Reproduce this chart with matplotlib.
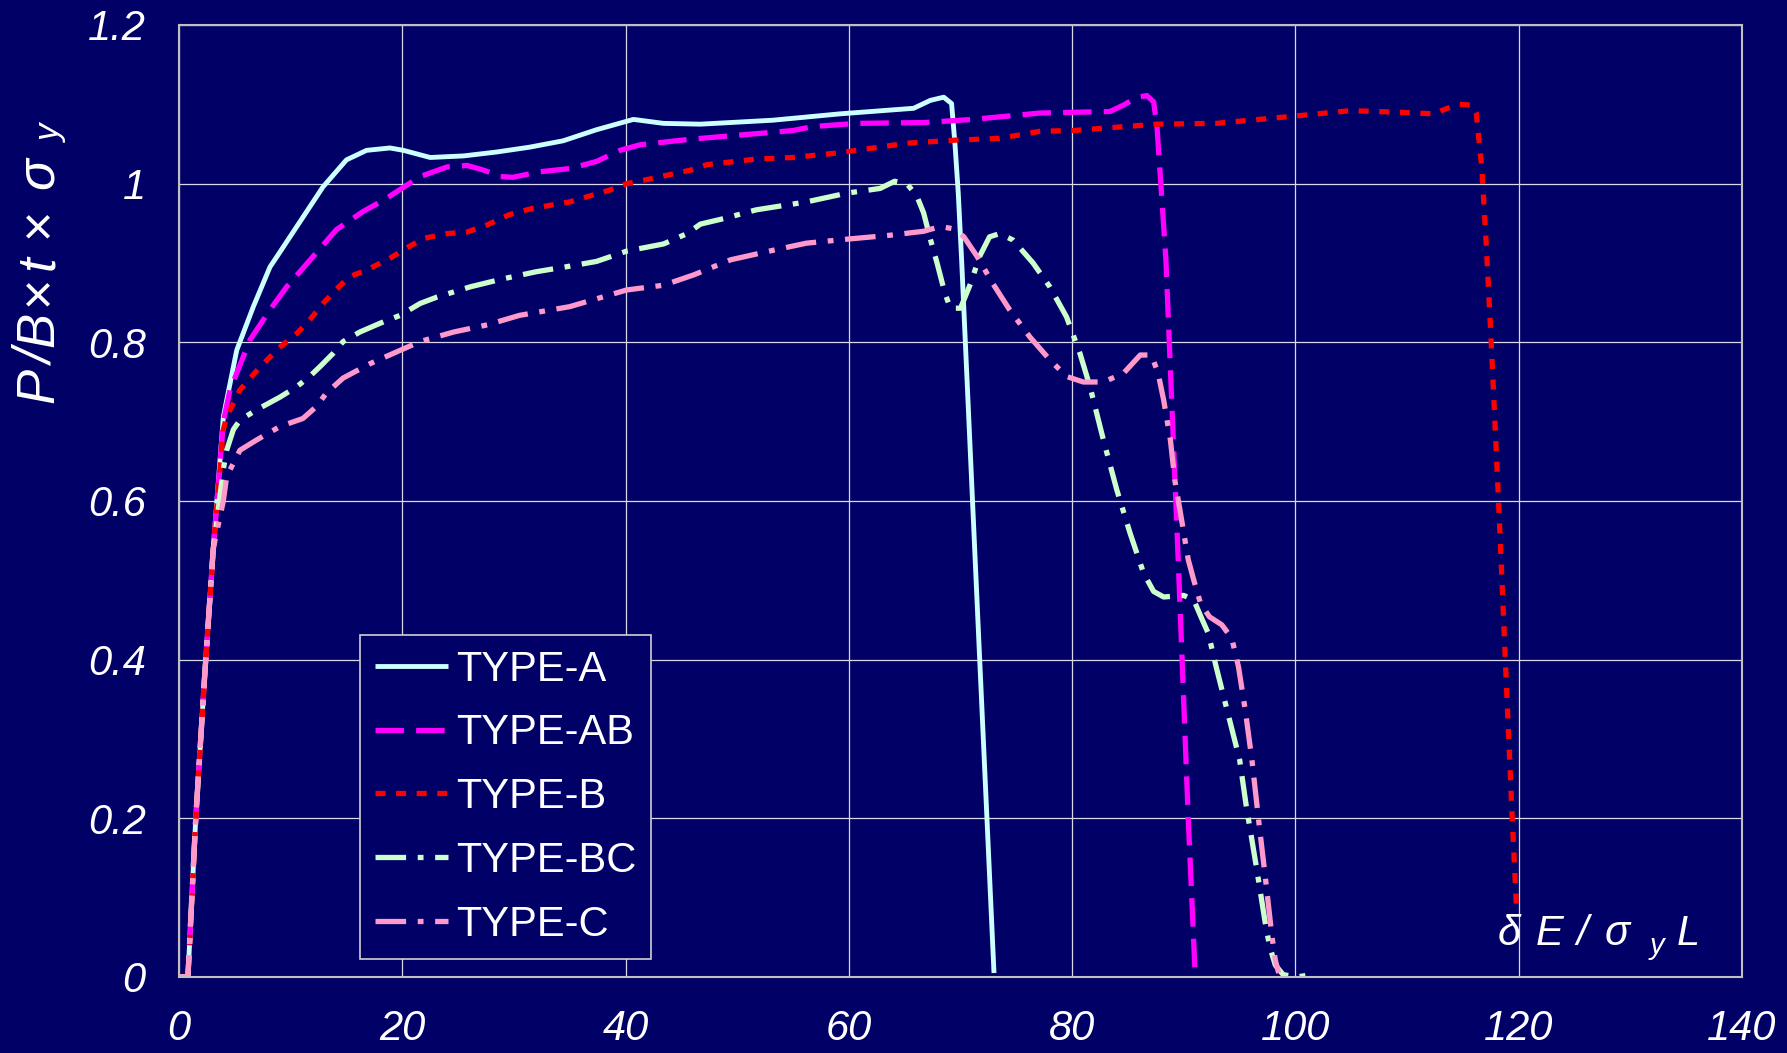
import matplotlib
matplotlib.use("Agg")
import matplotlib.pyplot as plt

# Figure size in pixels (dpi 100)
W, H = 1787, 1053
navy = "#000066"

# Data
# TYPE-A
a_x = [0, 0.8, 1.5, 2.3, 3.07, 3.97, 5.17, 6.66, 8.15, 9.05, 12.9, 15.0, 16.8, 18.9, 20.1,
       22.5, 25.5, 28.5, 31.4, 34.4, 37.4, 40.7, 43.4, 46.7, 53.2, 59.2, 65.8, 67.3, 68.5,
       69.2, 69.5, 69.8, 70.1, 71.6, 73.0]
a_y = [0, 0, 0.2, 0.38, 0.54, 0.706, 0.79, 0.845, 0.895, 0.914, 0.996, 1.030, 1.042, 1.045, 1.042,
       1.033, 1.035, 1.040, 1.046, 1.054, 1.068, 1.081, 1.076, 1.075, 1.080, 1.088, 1.095, 1.105, 1.109,
       1.101, 1.051, 0.988, 0.904, 0.437, 0.005]

# TYPE-AB
ab_x = [0, 0.8, 1.5, 2.3, 3.07, 3.97, 4.57, 6.36, 8.15, 9.65, 12.0, 14.1, 16.5, 18.3, 20.4, 21.6,
        24.0, 25.8, 27.3, 28.8, 29.9, 32.3, 35.0, 37.4, 39.5, 41.3, 45.8, 51.7, 55.0, 56.8, 60.7,
        66.7, 71.1, 77.1, 83.4, 84.6, 85.8, 86.7, 87.3, 87.6, 87.9, 88.4, 89.5, 90.4, 91.0]
ab_y = [0, 0, 0.2, 0.38, 0.54, 0.70, 0.74, 0.803, 0.841, 0.870, 0.908, 0.942, 0.965, 0.979, 0.998, 1.009,
        1.021, 1.023, 1.017, 1.009, 1.008, 1.015, 1.019, 1.028, 1.042, 1.049, 1.056, 1.063, 1.067, 1.072, 1.076,
        1.077, 1.081, 1.089, 1.091, 1.099, 1.109, 1.111, 1.103, 1.072, 1.009, 0.904, 0.526, 0.20, 0.009]

# TYPE-B
b_x = [0, 0.8, 1.5, 2.3, 3.07, 3.97, 4.27, 5.46, 7.26, 9.05, 10.54, 11.7, 12.9, 14.1, 15.3, 16.8,
       18.9, 20.4, 21.9, 24.0, 25.8, 27.6, 29.6, 31.7, 35.0, 38.6, 40.1, 42.2, 45.8, 47.3, 51.7,
       55.0, 59.2, 65.2, 69.7, 73.5, 77.1, 80.1, 87.6, 92.9, 99.8, 104.9, 109.4, 112.4, 113.6,
       114.7, 115.8, 116.2, 116.7, 117.1, 117.5, 117.9, 118.3, 118.8, 119.4, 119.8]
b_y = [0, 0, 0.2, 0.38, 0.54, 0.69, 0.706, 0.74, 0.769, 0.794, 0.811, 0.828, 0.849, 0.867, 0.883, 0.891,
       0.906, 0.919, 0.931, 0.937, 0.939, 0.948, 0.961, 0.969, 0.977, 0.992, 1.0, 1.006, 1.017, 1.024, 1.031,
       1.033, 1.039, 1.051, 1.055, 1.057, 1.066, 1.067, 1.075, 1.076, 1.085, 1.092, 1.090, 1.088, 1.095,
       1.100, 1.099, 1.089, 1.019, 0.921, 0.811, 0.69, 0.566, 0.40, 0.206, 0.087]

# TYPE-BC
bc_x = [0, 0.8, 1.5, 2.3, 3.07, 3.97, 4.27, 4.87, 5.46, 6.96, 9.05, 10.54, 11.7, 12.6, 13.8, 14.7,
        16.2, 18.0, 19.8, 21.6, 23.1, 26.1, 29.0, 32.0, 35.0, 37.4, 40.1, 43.4, 45.5, 46.7, 48.8,
        51.7, 56.2, 59.8, 62.8, 64.1, 65.2, 66.1, 66.7, 67.3, 67.9, 68.6, 69.1, 70.0, 70.9, 71.7,
        72.6, 73.5, 74.7, 76.5, 78.0, 79.5, 80.7, 81.6, 82.8, 84.0, 85.2, 86.4, 87.3, 88.2, 90.0,
        90.9, 91.6, 92.2, 92.9, 94.1, 95.0, 95.6, 96.5, 97.3, 97.7, 98.2, 98.9, 100.1, 101.0, 101.9]
bc_y = [0, 0, 0.2, 0.38, 0.54, 0.64, 0.664, 0.69, 0.702, 0.715, 0.731, 0.744, 0.757, 0.769, 0.786, 0.801,
        0.813, 0.824, 0.834, 0.849, 0.857, 0.870, 0.880, 0.889, 0.896, 0.902, 0.915, 0.924, 0.937, 0.949, 0.956,
        0.967, 0.977, 0.988, 0.994, 1.003, 1.0, 0.984, 0.963, 0.930, 0.90, 0.862, 0.843, 0.843, 0.874, 0.908,
        0.933, 0.937, 0.929, 0.90, 0.870, 0.832, 0.786, 0.744, 0.677, 0.614, 0.559, 0.509, 0.486, 0.479, 0.481,
        0.475, 0.452, 0.433, 0.391, 0.324, 0.274, 0.215, 0.139, 0.068, 0.038, 0.015, 0.003, 0.0, 0.002, 0.002]

# TYPE-C
c_x = [0, 0.8, 1.5, 2.3, 3.07, 3.97, 4.27, 5.46, 6.96, 9.05, 11.1, 12.3, 13.2, 14.7, 17.1, 19.5,
       21.6, 24.6, 27.6, 30.5, 35.0, 40.1, 43.4, 46.1, 49.4, 53.2, 56.2, 59.8, 63.7, 66.7, 68.2,
       69.4, 70.3, 71.5, 72.9, 74.4, 76.2, 78.0, 79.5, 81.0, 82.8, 84.6, 86.1, 87.1, 87.7, 88.2,
       88.8, 89.2, 89.7, 90.4, 90.9, 91.5, 92.3, 93.4, 94.3, 94.9, 95.5, 96.1, 96.7, 97.3, 97.9,
       98.2, 98.5]
c_y = [0, 0, 0.2, 0.38, 0.54, 0.60, 0.631, 0.664, 0.677, 0.694, 0.704, 0.719, 0.736, 0.755, 0.773, 0.788,
       0.801, 0.813, 0.822, 0.834, 0.845, 0.866, 0.872, 0.885, 0.904, 0.916, 0.925, 0.930, 0.935, 0.940, 0.946,
       0.943, 0.933, 0.908, 0.874, 0.841, 0.807, 0.778, 0.757, 0.750, 0.750, 0.761, 0.784, 0.784, 0.761, 0.727,
       0.677, 0.626, 0.585, 0.526, 0.50, 0.471, 0.454, 0.444, 0.427, 0.391, 0.337, 0.274, 0.198, 0.126, 0.051,
       0.021, 0.005]

x_ticks = [0, 20, 40, 60, 80, 100, 120, 140]
y_ticks = [0, 0.2, 0.4, 0.6, 0.8, 1.0, 1.2]
y_tick_labels = ["0", "0.2", "0.4", "0.6", "0.8", "1", "1.2"]

font = "Liberation Sans"

fig = plt.figure(figsize=(W / 100, H / 100), dpi=100, facecolor=navy)
ax = fig.add_axes([179 / W, 1 - 977 / H, (1742 - 179) / W, (977 - 25) / H])
ax.set_facecolor(navy)

ax.plot(a_x, a_y, color="#ccffff", lw=3.5, label="TYPE-A", solid_capstyle="butt")
ax.plot(ab_x, ab_y, color="#ff00ff", lw=3.8, dashes=(5.4, 2.3), dash_capstyle="butt", label="TYPE-AB")
ax.plot(b_x, b_y, color="#ff0000", lw=3.8, dashes=(1.9, 2.0), dash_capstyle="butt", label="TYPE-B")
ax.plot(bc_x, bc_y, color="#ccffcc", lw=3.8, dashes=(5.8, 2.2, 1.1, 2.2), dash_capstyle="butt", label="TYPE-BC")
ax.plot(c_x, c_y, color="#ff99cc", lw=3.8, dashes=(5.8, 2.2, 1.1, 2.2), dash_capstyle="butt", label="TYPE-C")

ax.set_xlim(0, 140)
ax.set_ylim(0, 1.2)
ax.set_xticks(x_ticks)
ax.set_yticks(y_ticks)
ax.set_yticklabels(y_tick_labels)
ax.tick_params(length=0, colors="white", labelsize=30)
ax.tick_params(axis="x", pad=23)
ax.tick_params(axis="y", pad=24)
for lab in ax.get_xticklabels() + ax.get_yticklabels():
    lab.set_family(font)
    lab.set_style("italic")
ax.grid(True, color="#d8d8e8", lw=0.9)
for sp in ax.spines.values():
    sp.set_color("#c0c0c0")
    sp.set_linewidth(1.5)

leg = ax.legend(loc="upper left", bbox_to_anchor=(360 / W, 1 - 635 / H),
                bbox_transform=fig.transFigure, borderaxespad=0,
                prop={"family": font, "size": 30}, labelcolor="white",
                facecolor=navy, edgecolor="#d0d0d0", framealpha=1, fancybox=False,
                handlelength=1.76, handletextpad=0.2, borderpad=0.35, labelspacing=0.57)
leg.get_frame().set_linewidth(1.2)


def put(px, py, s, size, rot=0):
    fig.text(px / W, 1 - py / H, s, color="white", family=font, style="italic",
             fontsize=size, rotation=rot, rotation_mode="anchor", ha="center", va="baseline")


# y axis label: P/B x t x sigma_y (rotated)
for s, py in [("P", 385), ("/", 358), ("B", 329), ("×", 291), ("t", 263), ("×", 223), ("σ", 173)]:
    put(53, py, s, 38, rot=90)
put(61, 133, "y", 25, rot=90)

# x axis label: delta E / sigma_y L (inside the plot)
for s, px in [("δ", 1509), ("E", 1550), ("/", 1582), ("σ", 1617), ("L", 1688)]:
    put(px, 945, s, 30)
put(1657, 954, "y", 21)

fig.savefig("out.png", dpi=100, facecolor=navy)
